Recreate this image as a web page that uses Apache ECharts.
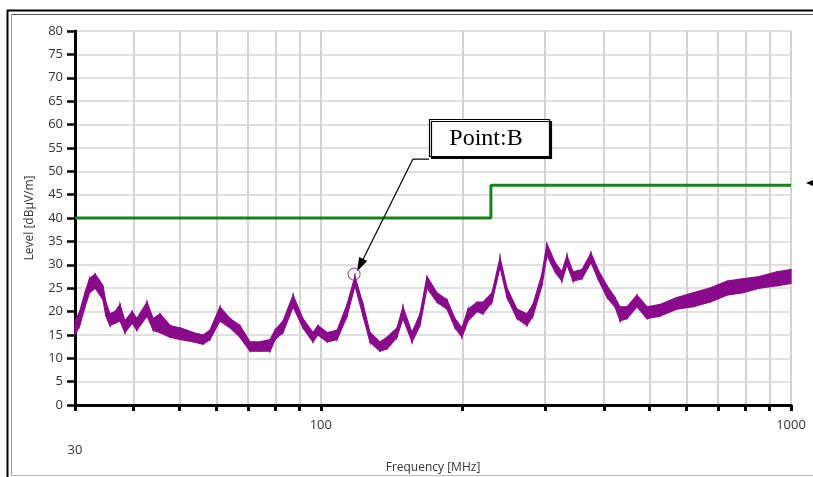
<!DOCTYPE html>
<html><head><meta charset="utf-8">
<script src="https://cdn.jsdelivr.net/npm/echarts@6/dist/echarts.min.js"></script>
<style>html,body{margin:0;padding:0;background:#fff}#c{width:813px;height:477px}</style>
</head><body><div id="c"></div>
<script>
// ---- data ----
const freqMHz = [30, 30.7, 31.5, 32.2, 33.1, 33.9, 34.4, 34.9, 35.6, 36.5, 37.4, 38.3, 39.7, 40.6, 42.7, 44.0, 45.5, 47.8, 50.2, 53.5,
  56.2, 58.1, 61.0, 64.1, 67.3, 70.7, 74.2, 78.0, 79.9, 83.1, 87.3, 91.6, 96.2, 98.6, 103.1, 108.3, 113.7, 118.2, 123.0, 127.2,
  133.6, 138.3, 145.2, 149.5, 156.3, 162.5, 168.2, 176.6, 185.5, 192.9, 199.6, 205.6, 214.9, 221.3, 231.2, 240.5, 248.9, 261.3, 274.4, 282.6,
  295.3, 302.6, 314.8, 325.7, 333.8, 343.8, 359.3, 375.5, 388.5, 406.1, 422.3, 432.8, 447.8, 470.3, 494.0, 526.2, 572.1, 618.8, 672.5, 730.9,
  790.4, 858.9, 933.4, 1000];
const levelLow = [15, 17, 21, 24, 25, 23.5, 22.5, 19, 17, 17.5, 18, 15.5, 17.5, 16, 19, 16, 15.5, 14.5, 14, 13.5,
  13, 14, 18, 16.5, 14.5, 11.5, 11.5, 11.5, 14, 15.5, 21, 16.5, 13.5, 15, 13.5, 14, 19, 25.5, 19, 13.5,
  11.5, 12, 14.5, 18.5, 13.5, 17, 25, 22, 20.5, 16.5, 14.5, 18, 20, 19.5, 22, 29.5, 23, 18.5, 17, 19,
  25.5, 32, 28.5, 26.5, 30, 26.5, 27, 30.5, 27, 23, 21, 18, 18.5, 21, 18.5, 19, 20.5, 21, 22, 23.5,
  24, 25, 25.5, 26];
const levelHigh = [18, 20, 24, 27, 28, 26.5, 25.5, 22, 19.5, 20, 21.5, 18, 20, 18.5, 22, 18.5, 19.5, 17, 16.5, 15.5,
  15, 16, 21, 18.5, 17, 13.5, 13.5, 14, 16, 18, 23.5, 18.5, 15.5, 17, 15.5, 16, 21.5, 27.5, 21.5, 15.5,
  13.5, 14.5, 16.5, 21, 15.5, 19.5, 27.5, 24, 22.5, 18.5, 16.5, 20.5, 22, 22, 24, 31.5, 25, 20.5, 19.5, 21.5,
  28, 34.5, 30.5, 28.5, 32, 28.5, 29, 32.5, 29, 25.5, 23, 21, 21, 23.5, 21, 21.5, 23, 24, 25, 26.5,
  27, 27.5, 28.5, 29];
const limitFreq = [30, 230, 230, 1000];
const limitLevel = [40, 40, 47, 47];
const xTickFreqs = [30, 40, 50, 60, 70, 80, 90, 100, 200, 300, 400, 500, 600, 700, 800, 900, 1000];
const xLabelFreqs = [30, 100, 1000];
const yMin = 0, yMax = 80, yStep = 5;
const pointB = [117.7, 28];
const leaderFreq = [169.8, 157.0, 121.2];
const leaderLevel = [52.6, 52.6, 29.9];
const annotationText = 'Point:B';

// ---- build ----
const PURPLE = '#8a0a8c';
const bandItems = [];
for (let i = 0; i < freqMHz.length - 1; i++) {
  bandItems.push([freqMHz[i], levelLow[i], levelHigh[i], freqMHz[i + 1], levelLow[i + 1], levelHigh[i + 1]]);
}
const lg = v => Math.min(3, Math.log10(v));
const chart = echarts.init(document.getElementById('c'), null, {renderer: 'canvas'});
const font = "'Open Sans', 'Noto Sans', sans-serif";
chart.setOption({
  animation: false,
  backgroundColor: '#fff',
  grid: {left: 75, right: 22, top: 31, bottom: 72, containLabel: false, outerBoundsMode: 'none'},
  xAxis: [
    {type: 'log', logBase: 10, min: 30, max: 1000, position: 'bottom', show: false,
     splitLine: {show: false}},
    {type: 'value', min: lg(30), max: 3, position: 'bottom',
     axisLine: {show: true, onZero: false, lineStyle: {color: '#000', width: 3}},
     axisTick: {show: true, inside: false, length: 6, lineStyle: {color: '#000', width: 3},
                customValues: xTickFreqs.map(lg)},
     axisLabel: {show: true, customValues: xLabelFreqs.map(lg), margin: 14, color: '#333',
                 fontFamily: font, fontSize: 13,
                 formatter: v => { const f = Math.round(Math.pow(10, v)); return f === 30 ? '{low|30}' : String(f); },
                 rich: {low: {padding: [25, 0, 0, 0], fontFamily: font, fontSize: 13, color: '#333'}}},
     splitLine: {show: true, lineStyle: {color: '#d2d2d2', width: 2}},
     name: 'Frequency [MHz]', nameLocation: 'middle', nameGap: 55,
     nameTextStyle: {fontFamily: font, fontSize: 12, color: '#333'}}
  ],
  yAxis: {
    type: 'value', min: yMin, max: yMax, interval: yStep,
    axisLine: {show: true, onZero: false, lineStyle: {color: '#000', width: 3}},
    axisTick: {show: true, length: 8, lineStyle: {color: '#000', width: 2.5}},
    axisLabel: {margin: 12, color: '#333', fontFamily: font, fontSize: 13},
    splitLine: {show: true, lineStyle: {color: '#d6d6d6', width: 1.5}},
    name: 'Level [dBµV/m]', nameLocation: 'middle', nameGap: 39,
    nameTextStyle: {fontFamily: font, fontSize: 12, color: '#333'}
  },
  series: [
    {type: 'line', xAxisIndex: 0, data: limitFreq.map((f, i) => [f, limitLevel[i]]),
     symbol: 'none', lineStyle: {color: '#1a821a', width: 3}, z: 3},
    {type: 'custom', xAxisIndex: 0, data: bandItems, encode: {x: [0, 3], y: [1, 2, 4, 5]}, z: 4,
     renderItem: (params, api) => {
       const a = api.coord([api.value(0), api.value(2)]);
       const b = api.coord([api.value(3), api.value(5)]);
       const c = api.coord([api.value(3), api.value(4)]);
       const d = api.coord([api.value(0), api.value(1)]);
       return {type: 'polygon', shape: {points: [a, b, c, d]},
               style: {fill: PURPLE, stroke: PURPLE, lineWidth: 1.2}};
     }},
    {type: 'scatter', xAxisIndex: 0, data: [pointB], symbol: 'circle', symbolSize: 12, z: 6,
     itemStyle: {color: 'rgba(0,0,0,0)', borderColor: '#8a3a8c', borderWidth: 1.2}},
    {type: 'line', xAxisIndex: 0, data: leaderFreq.slice(0, 2).map((f, i) => [f, leaderLevel[i]]),
     symbol: 'none', lineStyle: {color: '#000', width: 1.2}, z: 7,
     markLine: {silent: true, symbol: ['none', 'triangle'], symbolSize: [9, 14],
       label: {show: false}, lineStyle: {color: '#000', width: 1.2, type: 'solid'},
       data: [[{coord: [leaderFreq[1], leaderLevel[1]]}, {coord: [leaderFreq[2], leaderLevel[2]]}]]}}
  ],
  graphic: [
    {type: 'line', shape: {x1: 7, y1: 10.5, x2: 813, y2: 10.5}, style: {stroke: '#000', lineWidth: 2}},
    {type: 'line', shape: {x1: 11, y1: 14.5, x2: 813, y2: 14.5}, style: {stroke: '#555', lineWidth: 1}},
    {type: 'line', shape: {x1: 7.5, y1: 10, x2: 7.5, y2: 477}, style: {stroke: '#000', lineWidth: 2}},
    {type: 'line', shape: {x1: 11.5, y1: 14, x2: 11.5, y2: 475}, style: {stroke: '#999', lineWidth: 1}},
    {type: 'line', shape: {x1: 11, y1: 475.5, x2: 813, y2: 475.5}, style: {stroke: '#bbb', lineWidth: 1}},
    {type: 'rect', shape: {x: 429.5, y: 119.5, width: 120, height: 37}, z: 10,
     style: {fill: '#fff', stroke: '#000', lineWidth: 1.2, shadowColor: '#000', shadowOffsetX: 2, shadowOffsetY: 2, shadowBlur: 0}},
    {type: 'text', x: 486, y: 139, z: 11,
     style: {text: annotationText, font: "24px 'Liberation Serif', serif", fill: '#000', align: 'center', verticalAlign: 'middle'}},
    {type: 'polygon', shape: {points: [[806, 183], [813, 180], [813, 186]]}, style: {fill: '#000'}}
  ]
});
</script></body></html>
